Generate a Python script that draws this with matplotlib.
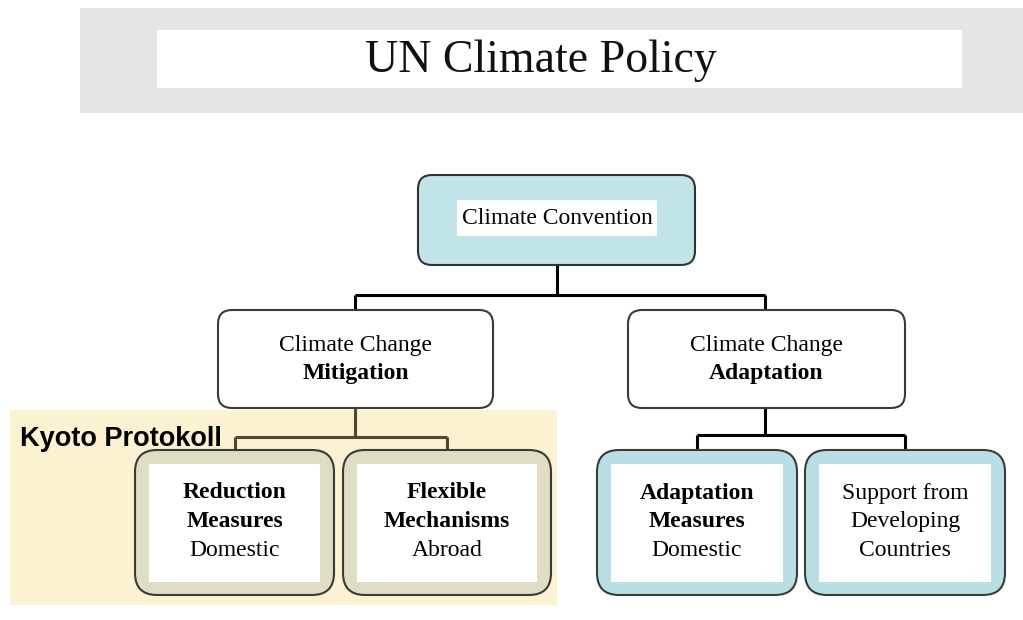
import matplotlib.pyplot as plt
from matplotlib.patches import FancyBboxPatch, Rectangle

# labels
title = "UN Climate Policy"
top_label = "Climate Convention"
mid_labels = [("Climate Change", "Mitigation"), ("Climate Change", "Adaptation")]
leaf_labels = [
    [("Reduction", True), ("Measures", True), ("Domestic", False)],
    [("Flexible", True), ("Mechanisms", True), ("Abroad", False)],
    [("Adaptation", True), ("Measures", True), ("Domestic", False)],
    [("Support from", False), ("Developing", False), ("Countries", False)],
]
kyoto_label = "Kyoto Protokoll"

# layout in pixels (x0, y0, x1, y1)
mid_boxes = [(218, 310, 493, 408), (628, 310, 905, 408)]
leaf_boxes = [(135, 450, 334, 595), (343, 450, 551, 595),
              (597, 450, 797, 595), (805, 450, 1005, 595)]
leaf_fill = ["#dfddc3", "#dfddc3", "#b9dfe5", "#b9dfe5"]

serif = "Liberation Serif"
edge = "#333333"
fs = 17

fig = plt.figure(figsize=(10.23, 6.2), dpi=100)
ax = fig.add_axes([0, 0, 1, 1])
ax.set_xlim(0, 1023)
ax.set_ylim(620, 0)
ax.axis("off")


def rbox(x0, y0, x1, y1, fc, ec=edge, lw=1.5, r=14, z=2):
    p = FancyBboxPatch((x0 + r, y0 + r), x1 - x0 - 2 * r, y1 - y0 - 2 * r,
                       boxstyle="round,pad=%d" % r, fc=fc, ec=ec, lw=lw, zorder=z)
    ax.add_patch(p)


def line(xs, ys, c="black"):
    ax.plot(xs, ys, color=c, lw=2.2, solid_capstyle="butt", zorder=1)


# title banner
ax.add_patch(Rectangle((80, 8), 943, 105, fc="#e5e5e5", ec="none"))
ax.add_patch(Rectangle((157, 30), 805, 58, fc="white", ec="none"))
ax.text(541, 61, title, fontsize=33, family=serif, ha="center", va="center", color="#111111")

# kyoto background
ax.add_patch(Rectangle((10, 410), 547, 195, fc="#fcf2d2", ec="none", zorder=0))
ax.text(20, 439, kyoto_label, fontsize=19.5, fontweight="bold", family="Liberation Sans",
        ha="left", va="center", zorder=3)

# connectors
l_cx = [(b[0] + b[2]) / 2 for b in leaf_boxes]
line([557, 557], [265, 295])
line([355, 765], [295, 295])
line([355, 355], [295, 310])
line([765, 765], [295, 310])
kc = "#4b4a2c"
line([355, 355], [408, 437], kc)
line([l_cx[0], l_cx[1]], [437, 437], kc)
line([l_cx[0], l_cx[0]], [437, 452], kc)
line([l_cx[1], l_cx[1]], [437, 452], kc)
line([765, 765], [408, 435])
line([l_cx[2], l_cx[3]], [435, 435])
line([l_cx[2], l_cx[2]], [435, 452])
line([l_cx[3], l_cx[3]], [435, 452])

# top box
rbox(418, 175, 695, 265, "#c1e4e9")
ax.add_patch(Rectangle((457, 200), 200, 36, fc="white", ec="none", zorder=3))
ax.text(557, 218, top_label, fontsize=fs, family=serif, ha="center", va="center", zorder=4)

# middle boxes
for (x0, y0, x1, y1), (l1, l2) in zip(mid_boxes, mid_labels):
    rbox(x0, y0, x1, y1, "white", ec="#3a3a3a")
    cx = (x0 + x1) / 2
    ax.text(cx, 345, l1, fontsize=fs, family=serif, ha="center", va="center", zorder=4)
    ax.text(cx, 373, l2, fontsize=fs, family=serif, fontweight="bold",
            ha="center", va="center", zorder=4)

# leaf boxes
for (x0, y0, x1, y1), fc, lines in zip(leaf_boxes, leaf_fill, leaf_labels):
    rbox(x0, y0, x1, y1, fc, ec="#3a3a3a", r=22)
    ax.add_patch(Rectangle((x0 + 14, y0 + 14), x1 - x0 - 28, y1 - y0 - 27,
                           fc="white", ec="none", zorder=3))
    cx = (x0 + x1) / 2
    for k, (txt, bold) in enumerate(lines):
        ax.text(cx, 493 + 28.5 * k, txt, fontsize=fs, family=serif,
                fontweight="bold" if bold else "normal",
                ha="center", va="center", zorder=4)

fig.savefig("out.png", dpi=100)
